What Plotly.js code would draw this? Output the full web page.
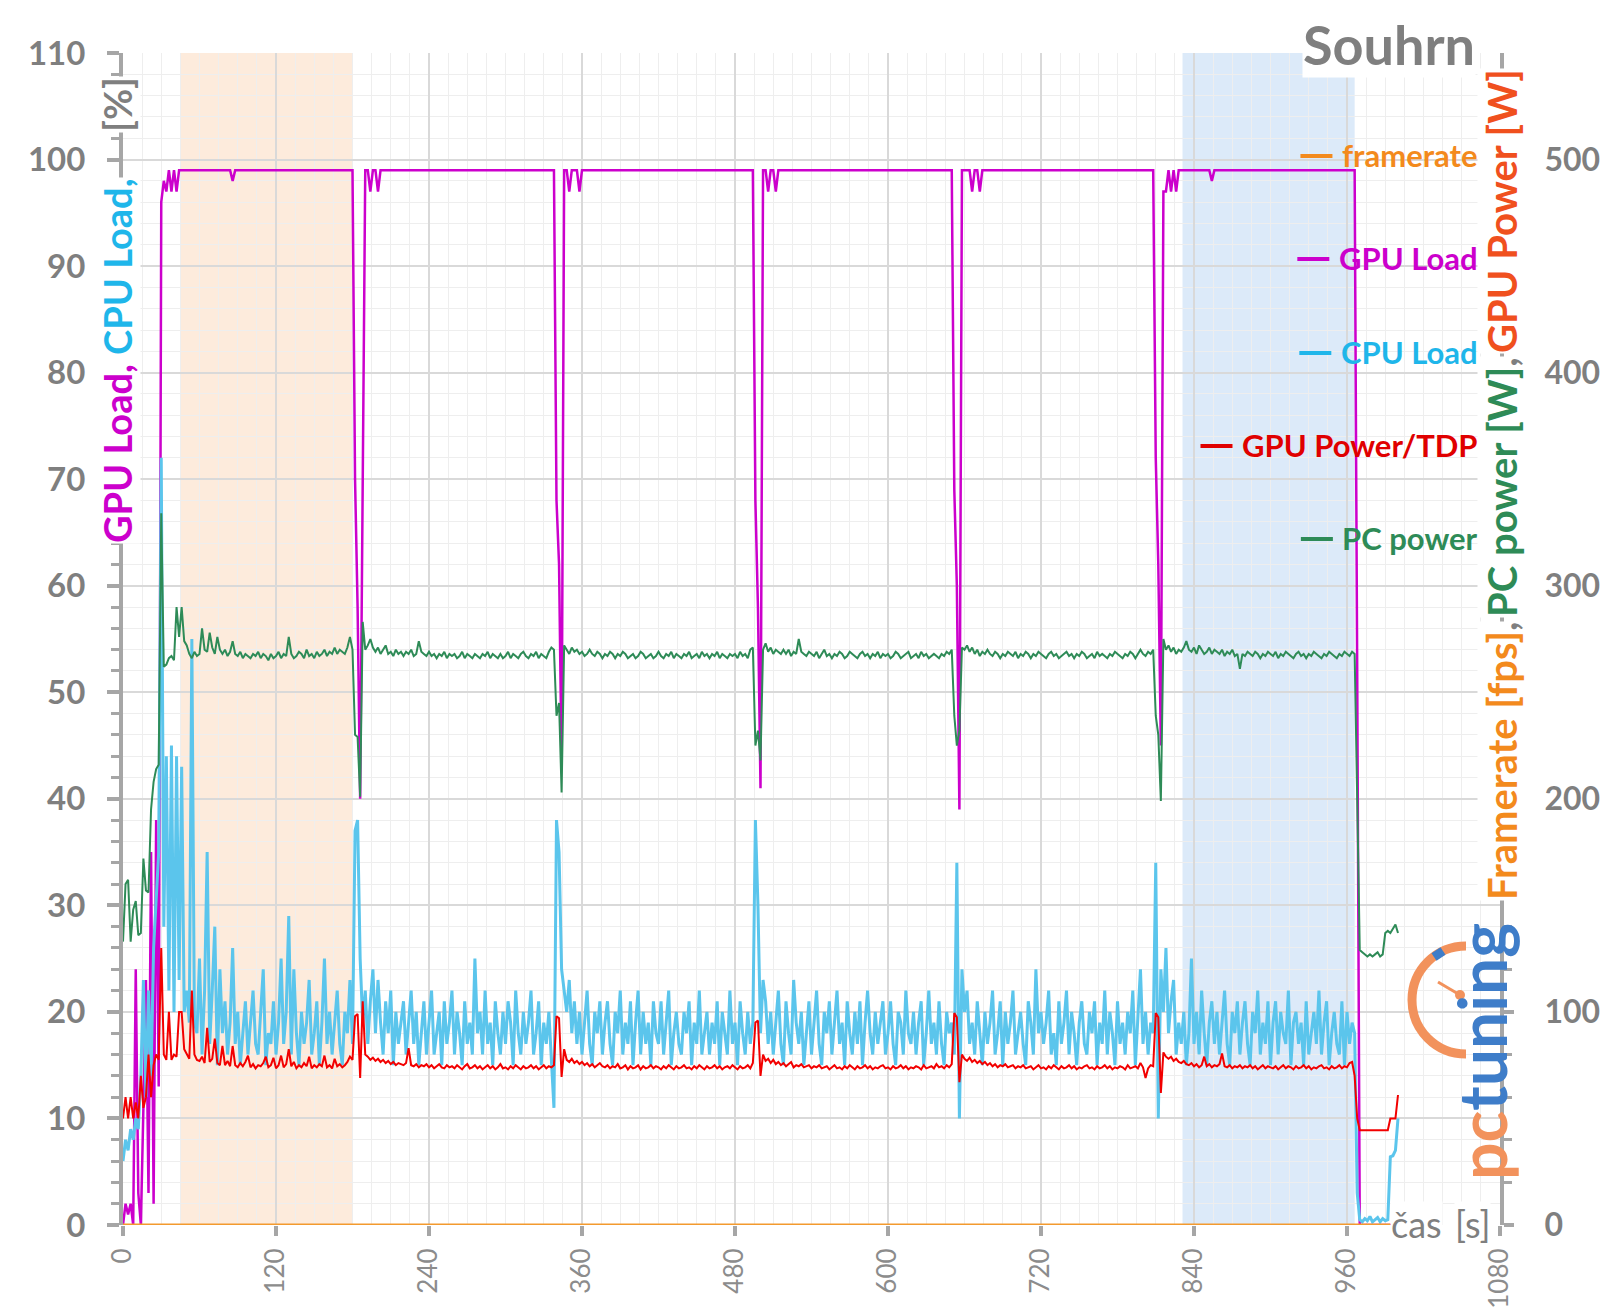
<!DOCTYPE html>
<html>
<head>
<meta charset="utf-8">
<script src="https://cdn.plot.ly/plotly-3.0.1.min.js"></script>
<style>
html, body { margin: 0; padding: 0; background: #ffffff; }
#chart { width: 1600px; height: 1313px; }
</style>
</head>
<body>
<div id="chart"></div>
<script>
// ---------------- DATA ----------------
const sampleStepSeconds = 2;   // one sample every 2 s, from 0 s to 1000 s

// GPU Load [%]
const gpuLoad = [
  0, 2, 1, 2, 0, 24, 3, 0, 11, 23,
  3, 35, 2, 38, 13, 96, 98, 97, 99, 97,
  99, 97, 99, 99, 99, 99, 99, 99, 99, 99,
  99, 99, 99, 99, 99, 99, 99, 99, 99, 99,
  99, 99, 99, 98, 99, 99, 99, 99, 99, 99,
  99, 99, 99, 99, 99, 99, 99, 99, 99, 99,
  99, 99, 99, 99, 99, 99, 99, 99, 99, 99,
  99, 99, 99, 99, 99, 99, 99, 99, 99, 99,
  99, 99, 99, 99, 99, 99, 99, 99, 99, 99,
  99, 70, 58, 40, 66, 99, 99, 97, 99, 99,
  97, 99, 99, 99, 99, 99, 99, 99, 99, 99,
  99, 99, 99, 99, 99, 99, 99, 99, 99, 99,
  99, 99, 99, 99, 99, 99, 99, 99, 99, 99,
  99, 99, 99, 99, 99, 99, 99, 99, 99, 99,
  99, 99, 99, 99, 99, 99, 99, 99, 99, 99,
  99, 99, 99, 99, 99, 99, 99, 99, 99, 99,
  99, 99, 99, 99, 99, 99, 99, 99, 99, 99,
  68, 62, 43, 99, 99, 97, 99, 99, 99, 97,
  99, 99, 99, 99, 99, 99, 99, 99, 99, 99,
  99, 99, 99, 99, 99, 99, 99, 99, 99, 99,
  99, 99, 99, 99, 99, 99, 99, 99, 99, 99,
  99, 99, 99, 99, 99, 99, 99, 99, 99, 99,
  99, 99, 99, 99, 99, 99, 99, 99, 99, 99,
  99, 99, 99, 99, 99, 99, 99, 99, 99, 99,
  99, 99, 99, 99, 99, 99, 99, 99, 68, 58,
  41, 99, 99, 97, 99, 99, 97, 99, 99, 99,
  99, 99, 99, 99, 99, 99, 99, 99, 99, 99,
  99, 99, 99, 99, 99, 99, 99, 99, 99, 99,
  99, 99, 99, 99, 99, 99, 99, 99, 99, 99,
  99, 99, 99, 99, 99, 99, 99, 99, 99, 99,
  99, 99, 99, 99, 99, 99, 99, 99, 99, 99,
  99, 99, 99, 99, 99, 99, 99, 99, 99, 99,
  99, 99, 99, 99, 99, 99, 69, 60, 39, 99,
  99, 99, 99, 97, 99, 99, 97, 99, 99, 99,
  99, 99, 99, 99, 99, 99, 99, 99, 99, 99,
  99, 99, 99, 99, 99, 99, 99, 99, 99, 99,
  99, 99, 99, 99, 99, 99, 99, 99, 99, 99,
  99, 99, 99, 99, 99, 99, 99, 99, 99, 99,
  99, 99, 99, 99, 99, 99, 99, 99, 99, 99,
  99, 99, 99, 99, 99, 99, 99, 99, 99, 99,
  99, 99, 99, 99, 99, 72, 62, 45, 97, 97,
  99, 97, 99, 97, 99, 99, 99, 99, 99, 99,
  99, 99, 99, 99, 99, 99, 99, 98, 99, 99,
  99, 99, 99, 99, 99, 99, 99, 99, 99, 99,
  99, 99, 99, 99, 99, 99, 99, 99, 99, 99,
  99, 99, 99, 99, 99, 99, 99, 99, 99, 99,
  99, 99, 99, 99, 99, 99, 99, 99, 99, 99,
  99, 99, 99, 99, 99, 99, 99, 99, 99, 99,
  99, 99, 99, 99, 52, 0, 0, 0, 0, 0,
  0, 0, 0, 0, 0, 0, 0, 0, 0, 0,
  0
];

// CPU Load [%]
const cpuLoad = [
  6, 8, 7, 9, 8, 10, 9, 14, 23, 12,
  22, 14, 26, 30, 35, 72, 28, 44, 22, 45,
  20, 44, 23, 43, 20, 22, 19, 55, 19, 18,
  25, 16, 22, 35, 17, 22, 28, 15, 24, 18,
  21, 16, 19, 26, 17, 20, 15, 18, 21, 16,
  19, 22, 17, 16, 20, 24, 15, 18, 17, 21,
  16, 19, 25, 17, 20, 29, 16, 24, 18, 15,
  20, 17, 19, 23, 16, 18, 21, 15, 19, 25,
  17, 20, 16, 19, 22, 17, 15, 20, 18, 23,
  17, 37, 38, 25, 19, 22, 17, 21, 24, 18,
  23, 19, 16, 21, 18, 22, 15, 20, 17, 19,
  21, 16, 19, 22, 17, 20, 15, 18, 21, 16,
  19, 22, 16, 18, 20, 15, 21, 17, 19, 22,
  16, 20, 18, 15, 21, 17, 19, 16, 25, 18,
  20, 16, 22, 17, 19, 15, 21, 18, 16, 20,
  17, 21, 19, 15, 22, 18, 16, 20, 17, 19,
  22, 16, 18, 21, 15, 19, 17, 20, 16, 11,
  38, 35, 24, 22, 20, 23, 18, 21, 17, 20,
  16, 19, 22, 17, 15, 20, 18, 21, 16, 19,
  21, 17, 15, 20, 18, 22, 16, 19, 17, 21,
  15, 19, 22, 16, 20, 17, 19, 15, 21, 18,
  17, 21, 16, 19, 22, 15, 18, 20, 17, 16,
  20, 18, 21, 15, 19, 17, 22, 16, 18, 20,
  16, 19, 17, 21, 15, 20, 18, 16, 22, 17,
  19, 15, 21, 18, 16, 20, 17, 19, 38, 30,
  18, 23, 21, 17, 20, 16, 19, 22, 17, 15,
  21, 18, 16, 23, 19, 17, 20, 15, 18, 21,
  16, 19, 22, 17, 15, 20, 18, 21, 16, 19,
  22, 17, 19, 15, 21, 18, 16, 20, 17, 21,
  15, 19, 22, 18, 16, 20, 17, 19, 21, 16,
  18, 21, 17, 15, 20, 19, 16, 22, 18, 17,
  20, 16, 19, 21, 15, 18, 22, 17, 19, 16,
  21, 17, 15, 20, 18, 19, 16, 34, 10, 24,
  20, 22, 17, 19, 16, 21, 18, 15, 20, 17,
  19, 22, 16, 18, 21, 15, 20, 17, 19, 22,
  16, 18, 20, 17, 15, 21, 19, 16, 24, 18,
  20, 17, 19, 22, 16, 18, 15, 21, 17, 19,
  22, 16, 20, 18, 15, 19, 21, 17, 16, 20,
  18, 21, 15, 19, 17, 22, 16, 20, 18, 15,
  21, 17, 19, 16, 20, 18, 22, 15, 19, 24,
  17, 20, 16, 19, 18, 34, 10, 24, 20, 26,
  18, 21, 23, 16, 19, 17, 20, 15, 18, 25,
  17, 20, 16, 22, 18, 15, 19, 21, 17, 20,
  16, 19, 22, 17, 15, 20, 18, 21, 16, 19,
  21, 17, 15, 20, 18, 22, 16, 19, 17, 21,
  15, 19, 21, 16, 20, 18, 17, 22, 15, 19,
  20, 17, 19, 15, 21, 16, 18, 20, 17, 22,
  16, 19, 21, 15, 18, 20, 17, 16, 21, 15,
  20, 17, 19, 18, 3, 0.5, 0.3, 0.6, 0.4, 0.8,
  0.3, 0.5, 0.7, 0.3, 0.6, 0.4, 0.5, 6.4, 6.5, 7,
  10
];

// GPU Power / TDP [%]
const gpuPowerTdp = [
  10, 12, 10, 12, 10, 11.5, 10, 14, 11, 12,
  16, 12, 15, 16, 15.5, 26, 16, 15.5, 20, 15.5,
  16, 15.8, 20, 20, 16.5, 16, 15.6, 22, 16, 15.5,
  15.4, 15.8, 15.2, 18.5, 15.3, 15.6, 17.5, 15.2, 15, 16.8,
  15, 15.4, 14.9, 16.8, 15, 14.8, 15.2, 14.9, 15.3, 15.9,
  14.8, 15.1, 14.7, 15, 14.9, 15.2, 15.8, 14.8, 15, 15.7,
  14.7, 15, 15.9, 14.8, 15.1, 16.5, 14.9, 15.3, 14.7, 15,
  14.8, 15.2, 14.9, 15.8, 14.7, 15, 14.8, 15.1, 14.9, 15.9,
  14.8, 15, 14.7, 15.6, 14.9, 15.1, 14.8, 15, 15.3, 15.8,
  15.5, 19.6, 19.8, 13.8, 21, 16, 15.8, 15.5, 15.7, 15.4,
  15.6, 15.3, 15.5, 15.2, 15.4, 15.1, 15.3, 15, 15.2, 15.1,
  15, 15.2, 16.6, 15, 14.9, 15.1, 14.8, 15, 14.9, 15.1,
  14.8, 15, 14.7, 14.9, 15.1, 14.8, 14.7, 15, 14.8, 14.9,
  14.7, 15, 14.8, 14.6, 14.9, 15.1, 14.7, 14.8, 15, 14.7,
  14.9, 14.6, 14.8, 15, 14.7, 14.9, 14.6, 14.8, 15.1, 14.7,
  14.8, 14.6, 14.9, 14.7, 15, 14.8, 14.6, 14.9, 14.7, 14.8,
  15, 14.7, 14.9, 14.6, 14.8, 15, 14.7, 14.9, 14.8, 15,
  19.6, 19.4, 13.9, 16.5, 15.5, 15.3, 15.6, 15.2, 15.4, 15.1,
  15.3, 15, 15.2, 14.9, 15.1, 14.8, 15, 15.2, 14.9, 14.8,
  15, 14.7, 14.9, 14.8, 15.1, 14.7, 14.8, 15, 14.6, 14.9,
  14.7, 14.8, 15, 14.6, 14.9, 14.7, 14.8, 15, 14.7, 14.9,
  14.8, 14.6, 14.9, 14.7, 15, 14.8, 14.6, 14.9, 14.7, 14.8,
  15, 14.7, 14.8, 14.6, 14.9, 14.7, 15, 14.8, 14.6, 14.9,
  14.7, 14.8, 15, 14.7, 14.9, 14.6, 14.8, 14.9, 14.7, 15,
  14.8, 14.6, 14.9, 14.7, 14.8, 15, 14.7, 15.2, 19, 19.2,
  14, 16, 15.4, 15.6, 15.2, 15.5, 15.1, 15.3, 15, 15.2,
  14.9, 15.1, 15.3, 14.8, 15, 14.9, 15.1, 14.8, 14.9, 15,
  14.7, 14.9, 14.8, 15, 14.7, 14.8, 14.9, 14.6, 14.8, 15,
  14.7, 14.8, 14.6, 14.9, 14.7, 15, 14.8, 14.6, 14.9, 14.7,
  14.8, 15, 14.7, 14.9, 14.6, 14.8, 14.7, 14.9, 15, 14.7,
  14.8, 14.6, 14.9, 14.7, 14.8, 15, 14.7, 14.9, 14.6, 14.8,
  14.7, 14.9, 14.8, 14.6, 15, 14.7, 14.8, 14.9, 14.7, 15.1,
  14.8, 14.9, 14.7, 15, 14.8, 15.1, 19.9, 19.5, 13.4, 16,
  15.6, 15.4, 15.7, 15.3, 15.5, 15.2, 15.4, 15.1, 15.3, 15,
  15.2, 14.9, 15.1, 14.8, 15, 14.9, 15.1, 14.8, 14.9, 15,
  14.7, 14.9, 14.8, 15, 14.7, 14.8, 14.9, 14.6, 14.8, 15,
  14.7, 14.8, 14.6, 14.9, 14.7, 15, 14.8, 14.6, 14.9, 14.7,
  14.8, 15, 14.7, 14.9, 14.6, 14.8, 14.7, 14.9, 15, 14.7,
  14.8, 14.6, 14.9, 14.7, 14.8, 15, 14.7, 14.9, 14.6, 14.8,
  14.7, 14.9, 14.8, 14.6, 15, 14.7, 14.8, 14.9, 14.7, 15.2,
  14.8, 13.8, 14.7, 15, 14.9, 19.9, 19.5, 12.4, 16.2, 15.8,
  15.6, 15.8, 15.4, 15.6, 15.3, 15.2, 15.4, 15.1, 15, 15.2,
  14.9, 15.1, 14.8, 15, 15.8, 14.9, 15.1, 14.8, 15, 14.9,
  15.1, 16.1, 14.9, 14.8, 15, 14.7, 14.9, 14.8, 15, 14.7,
  14.9, 14.8, 15, 14.7, 14.9, 14.6, 14.8, 15, 14.7, 14.9,
  14.8, 14.7, 14.9, 14.6, 14.8, 15, 14.7, 14.9, 14.8, 14.6,
  14.9, 14.7, 14.8, 15, 14.7, 14.9, 14.6, 14.8, 14.7, 14.9,
  15, 14.7, 14.8, 14.6, 14.9, 14.7, 14.8, 15, 14.7, 14.9,
  14.8, 15.2, 15.3, 14, 10, 8.9, 8.9, 8.9, 8.9, 8.9,
  8.9, 8.9, 8.9, 8.9, 8.9, 8.9, 8.9, 10, 10, 10,
  12.2
];

// PC power [W]
const pcPower = [
  133, 160, 162, 133, 148, 152, 136, 137, 172, 157,
  156, 195, 208, 214, 216, 334, 262, 263, 266, 267,
  265, 290, 276, 290, 274, 272, 268, 266, 269, 267,
  268, 280, 270, 269, 278, 271, 268, 276, 270, 268,
  270, 267, 269, 274, 268, 267, 269, 266, 268, 267,
  266, 268, 267, 269, 266, 268, 267, 265, 268, 266,
  267, 269, 266, 268, 267, 276, 268, 266, 267, 269,
  268, 266, 270, 267, 268, 266, 269, 267, 268, 270,
  267, 269, 268, 271, 268, 270, 269, 268, 271, 276,
  270, 230, 229, 201, 283, 270, 272, 275, 271, 269,
  271, 268, 270, 272, 268, 269, 267, 270, 268, 269,
  267, 269, 268, 270, 267, 268, 274, 269, 268, 267,
  269, 267, 268, 266, 268, 267, 269, 266, 268, 267,
  268, 266, 267, 269, 266, 268, 267, 266, 268, 267,
  266, 268, 267, 269, 266, 268, 267, 266, 268, 266,
  267, 269, 266, 268, 267, 266, 268, 269, 267, 266,
  268, 267, 269, 266, 268, 267, 266, 269, 271, 270,
  239, 245, 203, 272, 270, 268, 271, 269, 270, 268,
  269, 267, 268, 270, 268, 267, 269, 268, 266, 268,
  267, 269, 268, 266, 268, 267, 269, 268, 266, 267,
  268, 266, 267, 269, 268, 266, 267, 268, 266, 267,
  269, 267, 266, 268, 267, 269, 266, 268, 267, 266,
  268, 267, 269, 266, 267, 268, 266, 269, 267, 268,
  266, 268, 267, 269, 266, 268, 267, 266, 268, 267,
  268, 266, 269, 267, 268, 266, 270, 271, 225, 232,
  218, 270, 273, 269, 271, 268, 270, 269, 268, 270,
  268, 270, 267, 269, 268, 275, 269, 268, 267, 269,
  268, 267, 269, 266, 268, 270, 267, 268, 266, 268,
  267, 269, 268, 266, 267, 269, 268, 267, 266, 268,
  269, 267, 268, 266, 268, 267, 269, 266, 268, 267,
  268, 266, 267, 269, 268, 266, 267, 268, 269, 266,
  267, 268, 266, 269, 267, 268, 266, 267, 268, 267,
  266, 268, 267, 269, 268, 270, 239, 225, 232, 271,
  270, 272, 269, 271, 268, 270, 267, 269, 268, 270,
  268, 267, 269, 268, 266, 268, 267, 269, 268, 267,
  269, 266, 268, 267, 269, 268, 266, 268, 267, 269,
  268, 267, 266, 268, 269, 267, 268, 266, 267, 268,
  269, 267, 268, 266, 268, 267, 269, 268, 266, 267,
  268, 266, 269, 267, 268, 267, 266, 268, 267, 269,
  268, 267, 266, 268, 267, 269, 268, 266, 268, 270,
  268, 267, 269, 268, 270, 239, 230, 199, 275, 270,
  272, 269, 271, 268, 270, 269, 271, 274, 270, 269,
  271, 268, 272, 270, 268, 269, 271, 268, 270, 269,
  268, 270, 267, 269, 268, 270, 267, 268, 261, 268,
  267, 269, 268, 267, 269, 268, 266, 268, 267, 269,
  268, 267, 269, 266, 268, 267, 269, 268, 267, 266,
  268, 269, 267, 268, 266, 268, 267, 269, 268, 267,
  266, 268, 267, 269, 268, 267, 266, 268, 267, 269,
  268, 267, 269, 268, 200, 129, 128, 127, 126, 127,
  126, 127, 128, 126, 127, 137, 138, 137, 139, 141,
  137
];

// framerate [fps] (flat at zero for the whole run)
const framerateTime = [0, 994];
const framerate = [0, 0];

// highlighted intervals [s]
const orangeInterval = [45, 180];
const blueInterval = [831, 966];

// tick labels
const xTickValues = [0, 120, 240, 360, 480, 600, 720, 840, 960, 1080];
const leftTickValues = [0, 10, 20, 30, 40, 50, 60, 70, 80, 90, 100, 110];
const rightTickValues = [0, 100, 200, 300, 400, 500];

const time = gpuLoad.map((_, i) => i * sampleStepSeconds);

// ---------------- STYLE ----------------
const FONT = 'Lato, "Open Sans", "Noto Sans", sans-serif';
const GRAY = '#7F7F7F';
const AXIS = '#A6A6A6';
const C_GPU = '#CC00CC';
const C_CPU = '#5BC5EC';
const C_CPU_TXT = '#1FB6EA';
const C_PWR = '#F20000';
const C_PC = '#2E8B57';
const C_FPS = '#F39A2E';
const C_FPS_TXT = '#F38A1D';
const C_GPUW = '#F0501E';
const C_LOGO_O = '#F2925C';
const C_LOGO_B = '#3E7DC9';

const W = 1600, H = 1313, ML = 123, MR = 100, MT = 53, MB = 88;
const plotW = W - ML - MR, plotH = H - MT - MB;
const px = x => (x - ML) / plotW;      // pixel -> paper (layout placement only)
const py = y => (H - MB - y) / plotH;

function line(name, x, y, color, width, yaxis) {
  return { type: 'scatter', mode: 'lines', name, x, y, yaxis: yaxis || 'y',
           line: { color, width }, showlegend: false, hoverinfo: 'skip' };
}

const traces = [
  line('GPU Load', time, gpuLoad, C_GPU, 2.5),
  line('CPU Load', time, cpuLoad, C_CPU, 3),
  line('GPU Power/TDP', time, gpuPowerTdp, C_PWR, 2),
  line('PC power', time, pcPower, C_PC, 2, 'y2'),
  line('framerate', framerateTime, framerate, C_FPS, 3, 'y2')
];

function ann(text, x, y, opts) {
  return Object.assign({
    text, xref: 'paper', yref: 'paper', x: px(x), y: py(y),
    xanchor: 'center', yanchor: 'middle', showarrow: false, borderpad: 0,
    font: { family: FONT, size: 32, color: GRAY, weight: 'bold' }
  }, opts || {});
}

// legend (right-aligned text, coloured dash before it)
const legendItems = [
  { label: 'framerate', color: C_FPS_TXT, y: 155 },
  { label: 'GPU Load', color: C_GPU, y: 258 },
  { label: 'CPU Load', color: C_CPU_TXT, y: 352 },
  { label: 'GPU Power/TDP', color: '#E00000', y: 445 },
  { label: 'PC power', color: C_PC, y: 538 }
];
const LEGEND_RIGHT = 1480, LEGEND_SIZE = 31;
const measureCtx = document.createElement('canvas').getContext('2d');
measureCtx.font = 'bold ' + LEGEND_SIZE + 'px Lato, "Open Sans", sans-serif';

const annotations = [
  ann('Souhrn', 1389, 45, { bgcolor: '#ffffff', font: { family: FONT, size: 54, color: GRAY, weight: 'bold' } }),
  // left axis title (pieces so the axis line shows through the gap)
  ann('<span style="color:' + C_GPU + '">GPU Load, </span><span style="color:' + C_CPU_TXT + '">CPU Load,</span>',
      117, 361, { textangle: -90, bgcolor: '#ffffff', font: { family: FONT, size: 38, color: GRAY, weight: 'bold' } }),
  ann('[%]', 117, 105, { textangle: -90, bgcolor: '#ffffff', font: { family: FONT, size: 38, color: GRAY, weight: 'bold' } }),
  // right axis title
  ann('<span style="color:' + C_FPS_TXT + '">Framerate [fps]</span>,', 1502, 761, { textangle: -90, bgcolor: '#ffffff', font: { family: FONT, size: 40, color: GRAY, weight: 'bold' } }),
  ann('<span style="color:' + C_PC + '">PC power [W]</span>,', 1502, 487, { textangle: -90, bgcolor: '#ffffff', font: { family: FONT, size: 40, color: GRAY, weight: 'bold' } }),
  ann('<span style="color:' + C_GPUW + '">GPU Power [W]</span>', 1502, 211, { textangle: -90, bgcolor: '#ffffff', font: { family: FONT, size: 40, color: GRAY, weight: 'bold' } }),
  // x axis title
  ann('čas', 1416, 1224, { bgcolor: '#ffffff', font: { family: FONT, size: 36, color: GRAY, weight: 'normal' } }),
  ann('[s]', 1472, 1224, { bgcolor: '#ffffff', font: { family: FONT, size: 36, color: GRAY, weight: 'normal' } }),
  // pctuning logo
  ann('<span style="color:' + C_LOGO_O + '">pc</span><span style="color:' + C_LOGO_B + '">tuning</span>', 1481, 1052,
      { textangle: -90, font: { family: FONT, size: 66, color: GRAY, weight: 'bold' } })
].concat(legendItems.map(it => ({
  text: it.label, xref: 'paper', yref: 'paper', x: px(LEGEND_RIGHT), y: py(it.y),
  xanchor: 'right', yanchor: 'middle', showarrow: false,
  font: { family: FONT, size: LEGEND_SIZE, color: it.color, weight: 'bold' }
})));

// legend dashes
const legendDashes = legendItems.map(it => {
  const textStart = LEGEND_RIGHT - measureCtx.measureText(it.label).width;
  return { type: 'line', xref: 'paper', yref: 'paper',
           x0: px(textStart - 44), x1: px(textStart - 12), y0: py(it.y + 1), y1: py(it.y + 1),
           line: { color: it.color, width: 4 } };
});

// gauge arc of the logo
const arcPath = 'M ' + px(1466) + ' ' + py(946) +
  ' C ' + px(1436) + ' ' + py(946) + ' ' + px(1412) + ' ' + py(970) + ' ' + px(1412) + ' ' + py(1000) +
  ' C ' + px(1412) + ' ' + py(1030) + ' ' + px(1436) + ' ' + py(1054) + ' ' + px(1466) + ' ' + py(1054);

const shapes = [
  { type: 'rect', xref: 'x', yref: 'paper', x0: orangeInterval[0], x1: orangeInterval[1], y0: 0, y1: 1,
    fillcolor: '#FDEBDC', line: { width: 0 }, layer: 'below' },
  { type: 'rect', xref: 'x', yref: 'paper', x0: blueInterval[0], x1: blueInterval[1], y0: 0, y1: 1,
    fillcolor: '#DCEAF9', line: { width: 0 }, layer: 'below' },
  { type: 'path', xref: 'paper', yref: 'paper', path: arcPath, line: { color: C_LOGO_O, width: 9 } },
  { type: 'line', xref: 'paper', yref: 'paper', x0: px(1438), y0: py(982), x1: px(1460), y1: py(995),
    line: { color: C_LOGO_O, width: 3 } },
  { type: 'circle', xref: 'paper', yref: 'paper', x0: px(1455), y0: py(990), x1: px(1465), y1: py(1000),
    fillcolor: C_LOGO_O, line: { width: 0 } },
  { type: 'line', xref: 'paper', yref: 'paper', x0: px(1434), y0: py(957), x1: px(1443), y1: py(951),
    line: { color: C_LOGO_B, width: 9 } }
].concat(legendDashes);

const layout = {
  width: W, height: H, autosize: false,
  margin: { l: ML, r: MR, t: MT, b: MB, pad: 0 },
  paper_bgcolor: '#ffffff', plot_bgcolor: '#ffffff',
  showlegend: false,
  font: { family: FONT, color: GRAY },
  xaxis: {
    range: [0, 1080], tickmode: 'array', tickvals: xTickValues, ticktext: xTickValues.map(String),
    tickangle: -90, ticks: 'outside', ticklen: 10, tickwidth: 4, tickcolor: AXIS,
    ticklabelstandoff: 2,
    tickfont: { family: FONT, size: 26, color: '#8C8C8C' },
    showgrid: true, gridcolor: '#D9D9D9', gridwidth: 2, zeroline: false, showline: false,
    minor: { dtick: 15, tick0: 0, showgrid: true, gridcolor: '#EEEEEE', gridwidth: 1, ticks: '' }
  },
  yaxis: {
    range: [0, 110], tickmode: 'array', tickvals: leftTickValues, ticktext: leftTickValues.map(String),
    ticks: 'outside', ticklen: 12, tickwidth: 4, tickcolor: AXIS, ticklabelstandoff: 15,
    tickfont: { family: FONT, size: 33, color: GRAY, weight: 'bold' },
    showgrid: true, gridcolor: '#D9D9D9', gridwidth: 2, zeroline: false,
    showline: true, linecolor: AXIS, linewidth: 4,
    minor: { dtick: 2, tick0: 0, ticks: 'outside', ticklen: 8, tickwidth: 3, tickcolor: AXIS,
             showgrid: true, gridcolor: '#EEEEEE', gridwidth: 1 }
  },
  yaxis2: {
    range: [0, 550], overlaying: 'y', side: 'right', tickmode: 'array', tickvals: rightTickValues,
    ticktext: rightTickValues.map(String),
    ticks: 'outside', ticklen: 10, tickwidth: 4, tickcolor: AXIS, ticklabelstandoff: 24,
    tickfont: { family: FONT, size: 32, color: GRAY, weight: 'bold' },
    showgrid: false, zeroline: false, showline: true, linecolor: AXIS, linewidth: 4,
    minor: { dtick: 20, tick0: 0, ticks: 'outside', ticklen: 8, tickwidth: 3, tickcolor: AXIS, showgrid: false }
  },
  shapes, annotations
};

Plotly.newPlot('chart', traces, layout, { staticPlot: true, displayModeBar: false });
</script>
</body>
</html>
